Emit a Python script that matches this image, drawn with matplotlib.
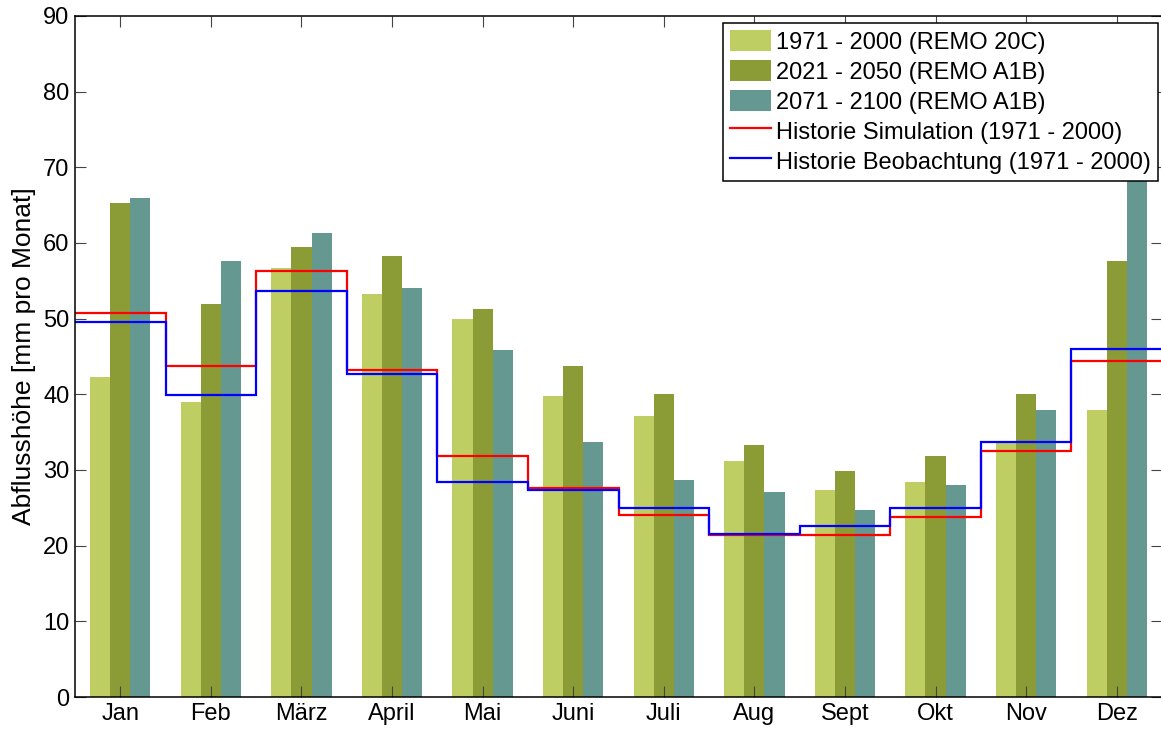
import numpy as np
import matplotlib
matplotlib.use('Agg')
import matplotlib.pyplot as plt

plt.rcParams['font.family'] = ['Liberation Sans', 'DejaVu Sans']

months = ['Jan', 'Feb', 'März', 'April', 'Mai', 'Juni', 'Juli', 'Aug', 'Sept', 'Okt', 'Nov', 'Dez']

# Monatliche Abflusshoehe [mm]
remo_20c = [42.3, 39.0, 56.7, 53.3, 50.0, 39.8, 37.1, 31.2, 27.4, 28.4, 33.6, 37.9]
remo_a1b_2050 = [65.3, 51.9, 59.5, 58.3, 51.3, 43.7, 40.0, 33.3, 29.9, 31.9, 40.0, 57.6]
remo_a1b_2100 = [65.9, 57.6, 61.3, 54.1, 45.9, 33.7, 28.7, 27.1, 24.7, 28.0, 37.9, 76.0]
hist_sim = [50.7, 43.7, 56.3, 43.2, 31.9, 27.6, 24.1, 21.35, 21.4, 23.8, 32.55, 44.4]
hist_obs = [49.6, 39.9, 53.65, 42.7, 28.45, 27.35, 25.0, 21.5, 22.6, 25.0, 33.7, 46.0]

labels = ['1971 - 2000 (REMO 20C)', '2021 - 2050 (REMO A1B)', '2071 - 2100 (REMO A1B)',
          'Historie Simulation (1971 - 2000)', 'Historie Beobachtung (1971 - 2000)']
colors = ['#BFCE63', '#8B9C36', '#649890']

fig = plt.figure(figsize=(11.61, 7.31), dpi=100)
ax = fig.add_axes([75 / 1161, 1 - 697 / 731, (1162 - 75) / 1161, (697 - 16) / 731])

x = np.arange(1, 13)
w = 0.222
for i, vals in enumerate([remo_20c, remo_a1b_2050, remo_a1b_2100]):
    ax.bar(x + (i - 1) * w, vals, width=w, color=colors[i], label=labels[i], linewidth=0)

edges = np.arange(0.5, 13.5, 1.0)
ax.stairs(hist_sim, edges, baseline=None, color='#FF0000', linewidth=1.6, label=labels[3])
ax.stairs(hist_obs, edges, baseline=None, color='#0000FF', linewidth=1.6, label=labels[4])

ax.set_xlim(0.5, 12.5)
ax.set_ylim(0, 90)
ax.set_yticks(np.arange(0, 91, 10))
ax.set_xticks(x)
ax.set_xticklabels(months)
ax.tick_params(direction='in', length=8, width=0.8, top=True, right=True,
               labelsize=17, pad=4, color='#444444')
for s in ax.spines.values():
    s.set_linewidth(1.1)
ax.set_ylabel('Abflusshöhe [mm pro Monat]', fontsize=19, labelpad=5)

# Legende in der Reihenfolge Balken, dann Linien
handles, labs = ax.get_legend_handles_labels()
order = [labs.index(l) for l in labels]
leg = ax.legend([handles[i] for i in order], [labs[i] for i in order],
                loc='upper right', bbox_to_anchor=(1158 / 1161, 1 - 23 / 731),
                bbox_transform=fig.transFigure, borderaxespad=0, fontsize=17,
                fancybox=False, framealpha=1, edgecolor='black',
                handlelength=1.75, handleheight=1.0, handletextpad=0.2,
                labelspacing=0.27, borderpad=0.3)
leg.get_frame().set_linewidth(1.1)

fig.savefig('out.png', dpi=100)
